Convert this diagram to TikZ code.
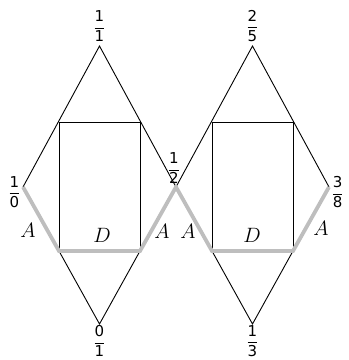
\documentclass[tikz,border=0pt]{standalone}
\usepackage{amsmath}
\usepackage{fontspec}
\setmainfont{DejaVu Sans}
\begin{document}
\begin{tikzpicture}[x=1pt,y=-1pt,
  edge/.style={line width=0.9pt,black},
  path/.style={line width=3.8pt,color={rgb,255:red,190;green,190;blue,190}},
  frac/.style={font=\fontsize{15}{17}\selectfont,inner sep=0.5pt},
  lab/.style={font=\fontsize{21}{24}\selectfont,inner sep=0pt}]
\useasboundingbox (0,0) rectangle (349,360);
% left diamond
\coordinate (T1) at (99.5,46);
\coordinate (UL1) at (59,122);
\coordinate (UR1) at (140,122);
\coordinate (L1) at (23,187);
\coordinate (M) at (176,187);
\coordinate (LL1) at (59,251);
\coordinate (LR1) at (140,251);
\coordinate (B1) at (99.5,324);
% right diamond
\coordinate (T2) at (252.5,46);
\coordinate (UL2) at (212,122);
\coordinate (UR2) at (293,122);
\coordinate (R2) at (329,187);
\coordinate (LL2) at (212,251);
\coordinate (LR2) at (293,251);
\coordinate (B2) at (252.5,324);
\draw[edge] (L1) -- (T1) -- (M) -- (T2) -- (R2);
\draw[edge] (LL1) -- (UL1) -- (UR1) -- (LR1);
\draw[edge] (LL2) -- (UL2) -- (UR2) -- (LR2);
\draw[edge] (LL1) -- (B1) -- (LR1);
\draw[edge] (LL2) -- (B2) -- (LR2);
\draw[path] (L1) -- (LL1) -- (LR1) -- (M) -- (LL2) -- (LR2) -- (R2);
% fraction labels
\node[frac,above=4pt] (f11) at (T1) {$\dfrac{\text{1}}{\text{1}}$};
\node[frac,above=4pt] (f25) at (T2) {$\dfrac{\text{2}}{\text{5}}$};
\node[frac,left=2pt] (f10) at ([yshift=-5pt]L1) {$\dfrac{\text{1}}{\text{0}}$};
\node[frac,above=3pt] (f12) at ([xshift=-2pt]M) {$\dfrac{\text{1}}{\text{2}}$};
\node[frac,right=2pt] (f38) at ([yshift=-5pt]R2) {$\dfrac{\text{3}}{\text{8}}$};
\node[frac,below=1pt] (f01) at (B1) {$\dfrac{\text{0}}{\text{1}}$};
\node[frac,below=1pt] (f13) at (B2) {$\dfrac{\text{1}}{\text{3}}$};
% edge labels
\node[lab] (a1) at (28,230) {$A$};
\node[lab] (d1) at (102,235) {$D$};
\node[lab] (a2) at (162,231) {$A$};
\node[lab] (a3) at (188,231) {$A$};
\node[lab] (d2) at (252,235) {$D$};
\node[lab] (a4) at (321,228) {$A$};
\end{tikzpicture}
\end{document}
